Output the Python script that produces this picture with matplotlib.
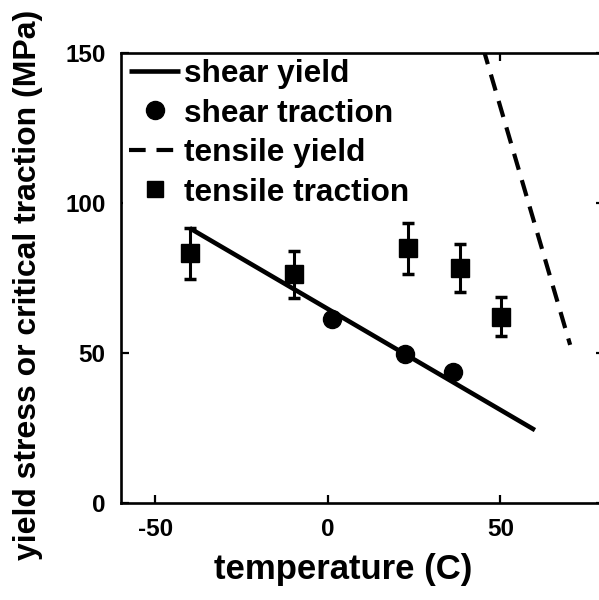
import matplotlib
matplotlib.use("Agg")
import matplotlib.pyplot as plt
from matplotlib.lines import Line2D

plt.rcParams['font.family'] = ['Liberation Sans', 'DejaVu Sans']
plt.rcParams['font.weight'] = 'bold'
plt.rcParams['axes.unicode_minus'] = False

# data
shear_yield_T = [-40, 60]
shear_yield_S = [91.5, 24.2]

shear_trac_T = [1.2, 22.3, 36.3]
shear_trac_S = [61.2, 49.6, 43.7]

tensile_yield_T = [45.0, 70.2]
tensile_yield_S = [151.5, 52.6]

tensile_trac_T = [-39.8, -9.7, 23.2, 38.2, 50.3]
tensile_trac_S = [83.1, 76.1, 84.8, 78.3, 62.0]
tensile_trac_err = [8.5, 7.8, 8.5, 8.0, 6.4]

xticks = [-50, 0, 50]
yticks = [0, 50, 100, 150]
legend_labels = ['shear yield', 'shear traction', 'tensile yield', 'tensile traction']

fig = plt.figure(figsize=(5.99, 6.00), dpi=100)
ax = fig.add_axes([0.2015, 0.1622, 1.0083 - 0.2015, 0.9122 - 0.1622])

h1, = ax.plot(shear_yield_T, shear_yield_S, color='black', lw=3.3,
              solid_capstyle='butt')
h2, = ax.plot(shear_trac_T, shear_trac_S, 'o', color='black', ms=13, ls='none')
h3, = ax.plot(tensile_yield_T, tensile_yield_S, color='black', lw=3.0,
              dashes=(4, 2.6))
ax.errorbar(tensile_trac_T, tensile_trac_S, yerr=tensile_trac_err, fmt='s',
            color='black', ms=13.5, elinewidth=2.2, capsize=4.3, capthick=2.5)
h4 = Line2D([], [], marker='s', color='black', ms=12, ls='none')

ax.set_xlim(-60, 80)
ax.set_ylim(0, 150)
ax.set_xticks(xticks)
ax.set_yticks(yticks)
ax.tick_params(direction='in', length=5.8, width=1.6, top=True, right=True,
               labelsize=17.5, pad=11)
for lab in ax.get_xticklabels() + ax.get_yticklabels():
    lab.set_fontweight('bold')
for sp in ax.spines.values():
    sp.set_linewidth(1.9)
    sp.set_zorder(10)

ax.set_xlabel('temperature (C)', fontsize=25, fontweight='bold')
ax.set_ylabel('yield stress or critical traction (MPa)', fontsize=23,
              fontweight='bold')
ax.xaxis.set_label_coords(0.461, -0.112)
ax.yaxis.set_label_coords(-0.161, 0.484)

leg = ax.legend([h1, h2, h3, h4], legend_labels, loc='upper left',
                bbox_to_anchor=(0.005, 1.0),
                frameon=True, facecolor='white', edgecolor='none',
                framealpha=1.0, fancybox=False, handlelength=1.6, handletextpad=0.12,
                labelspacing=0.3, borderpad=0.2, borderaxespad=0.0,
                prop={'weight': 'bold', 'size': 22.8})
leg.set_zorder(5)

fig.savefig('out.png', dpi=100)
